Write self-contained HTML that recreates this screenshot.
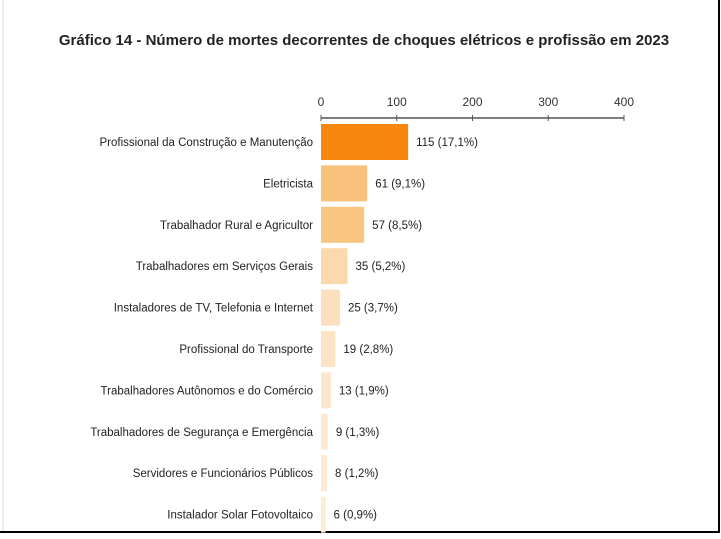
<!DOCTYPE html>
<html><head><meta charset="utf-8"><style>
body{margin:0;background:#fff;width:721px;height:534px;overflow:hidden;font-family:"Liberation Sans",sans-serif}
</style></head><body>
<svg width="721" height="534">
<rect x="0" y="0" width="721" height="534" fill="#fff"/>
<line x1="3" y1="0" x2="3" y2="534" stroke="#ddd" stroke-width="1"/>
<line x1="719" y1="0" x2="719" y2="533" stroke="#000" stroke-width="2"/>
<line x1="0" y1="532" x2="720" y2="532" stroke="#000" stroke-width="2"/>
<text x="364" y="45" text-anchor="middle" font-size="15" font-weight="bold" fill="#222">Gráfico 14 - Número de mortes decorrentes de choques elétricos e profissão em 2023</text>
<g id="axis"></g><g id="bars"></g>
</svg>
<script>
const categories=["Profissional da Construção e Manutenção","Eletricista","Trabalhador Rural e Agricultor","Trabalhadores em Serviços Gerais","Instaladores de TV, Telefonia e Internet","Profissional do Transporte","Trabalhadores Autônomos e do Comércio","Trabalhadores de Segurança e Emergência","Servidores e Funcionários Públicos","Instalador Solar Fotovoltaico"];
const values=[115,61,57,35,25,19,13,9,8,6];
const percents=["17,1%","9,1%","8,5%","5,2%","3,7%","2,8%","1,9%","1,3%","1,2%","0,9%"];
const ticks=[0,100,200,300,400];
const NS="http://www.w3.org/2000/svg";
const x0=321,x1=624,max=400;
const xs=v=>x0+(x1-x0)*v/max;
const ys=i=>142+i*41.4;
function mk(t,a,p){const e=document.createElementNS(NS,t);for(const k in a)e.setAttribute(k,a[k]);p.appendChild(e);return e;}
const ax=document.getElementById('axis'),bg=document.getElementById('bars');
const al=mk('line',{x1:x0,y1:118,x2:x1,y2:118,stroke:'#555','stroke-width':1.5},ax);


ticks.forEach(t=>{
 const l=mk('line',{x1:xs(t),y1:115,x2:xs(t),y2:121,stroke:'#555'},ax);
 
 
 const tx=mk('text',{x:xs(t),y:106,'text-anchor':'middle','font-size':12,fill:'#333'},ax);tx.textContent=t;
 
 
});
const colors=['#f7870f','#f9c27c','#f9c681','#fbd9ad','#fce0bd','#fce3c4','#fde7cc','#fde9d0','#fdead2','#fdebd4'];
values.forEach((v,i)=>{
 const y=ys(i);
 const r=mk('rect',{x:x0,y:y-18,width:xs(v)-x0,height:36,fill:colors[i]},bg);
 
 
 const lb=mk('text',{x:313,y:y+4,'text-anchor':'end','font-size':11.5,fill:'#222'},bg);lb.textContent=categories[i];
 
 
 const vl=mk('text',{x:xs(v)+8,y:y+4,'font-size':11.5,fill:'#222'},bg);vl.textContent=v+' ('+percents[i]+')';
 
 
});
</script>
</body></html>
